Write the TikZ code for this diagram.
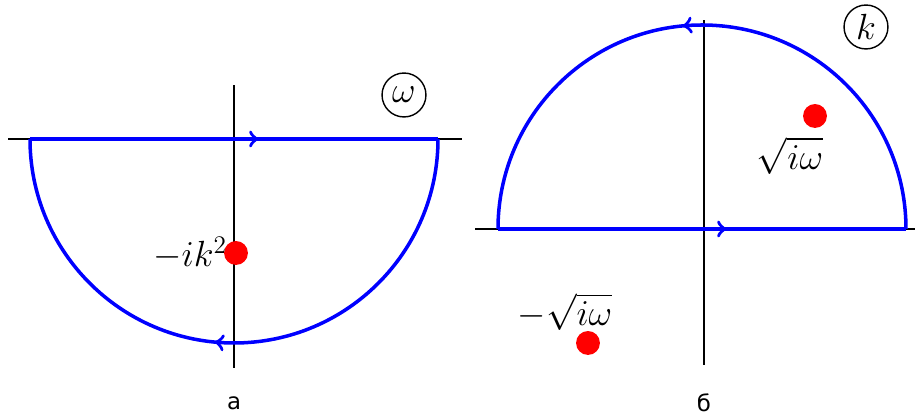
\documentclass[tikz,border=0pt]{standalone}
\usepackage{fontspec}
\usepackage{tikz}
\usetikzlibrary{decorations.markings}
\newfontfamily\labelfont{DejaVu Sans}
\definecolor{contourblue}{RGB}{0,0,255}
\definecolor{poledot}{RGB}{255,0,0}
\tikzset{
  axisline/.style={black,line width=1.1pt},
  contour/.style={contourblue,line width=2pt},
  midarrow/.style={postaction={decorate},decoration={markings,
    mark=at position #1 with {\arrow[contourblue,line width=1.3pt,scale=1.5]{>}}}},
  pole/.style={circle,fill=poledot,inner sep=0pt,minimum size=13.6pt},
  mathlabel/.style={inner sep=1pt,font=\fontsize{20}{24}\selectfont},
  planelabel/.style={circle,draw,line width=0.8pt,inner sep=1pt,minimum size=25pt,font=\fontsize{20}{24}\selectfont},
  caption/.style={font=\labelfont\fontsize{13}{15}\selectfont}
}
\newcommand{\halfdisk}[5]{%
  \draw[contour,midarrow=#4] (#1-204,#2) -- (#1+204,#2);%
  \draw[contour,midarrow=#5] (#1+204,#2) arc[start angle=0,end angle=#3,radius=204];%
}

\begin{document}
\begin{tikzpicture}[x=0.02cm,y=0.02cm]
  \useasboundingbox (0,0) rectangle (921,418);
  % a: omega plane
  \draw[axisline] (8,279) -- (462,279);
  \draw[axisline] (234,50) -- (234,333);
  \halfdisk{234}{279}{-180}{0.56}{0.53}
  \node[pole] (pa) at (236,165) {};
  \node[mathlabel,anchor=east] (la) at ([xshift=3pt]pa.west) {$-ik^2$};
  \node[planelabel] (wa) at (404,323) {$\omega$};
  \node[caption] (ca) at (234,15) {а};
  % b: k plane
  \draw[axisline] (475,189) -- (915,189);
  \draw[axisline] (704,53) -- (704,398);
  \halfdisk{702}{189}{180}{0.56}{0.53}
  \node[pole] (pb) at (815,302) {};
  \node[mathlabel] (lb) at (790,262) {$\sqrt{i\omega}$};
  \node[pole] (pc) at (588,75) {};
  \node[mathlabel] (lc) at (565,106) {$-\sqrt{i\omega}$};
  \node[planelabel] (kb) at (866,391) {$k$};
  \node[caption] (cb) at (704,15) {б};
\end{tikzpicture}
\end{document}
